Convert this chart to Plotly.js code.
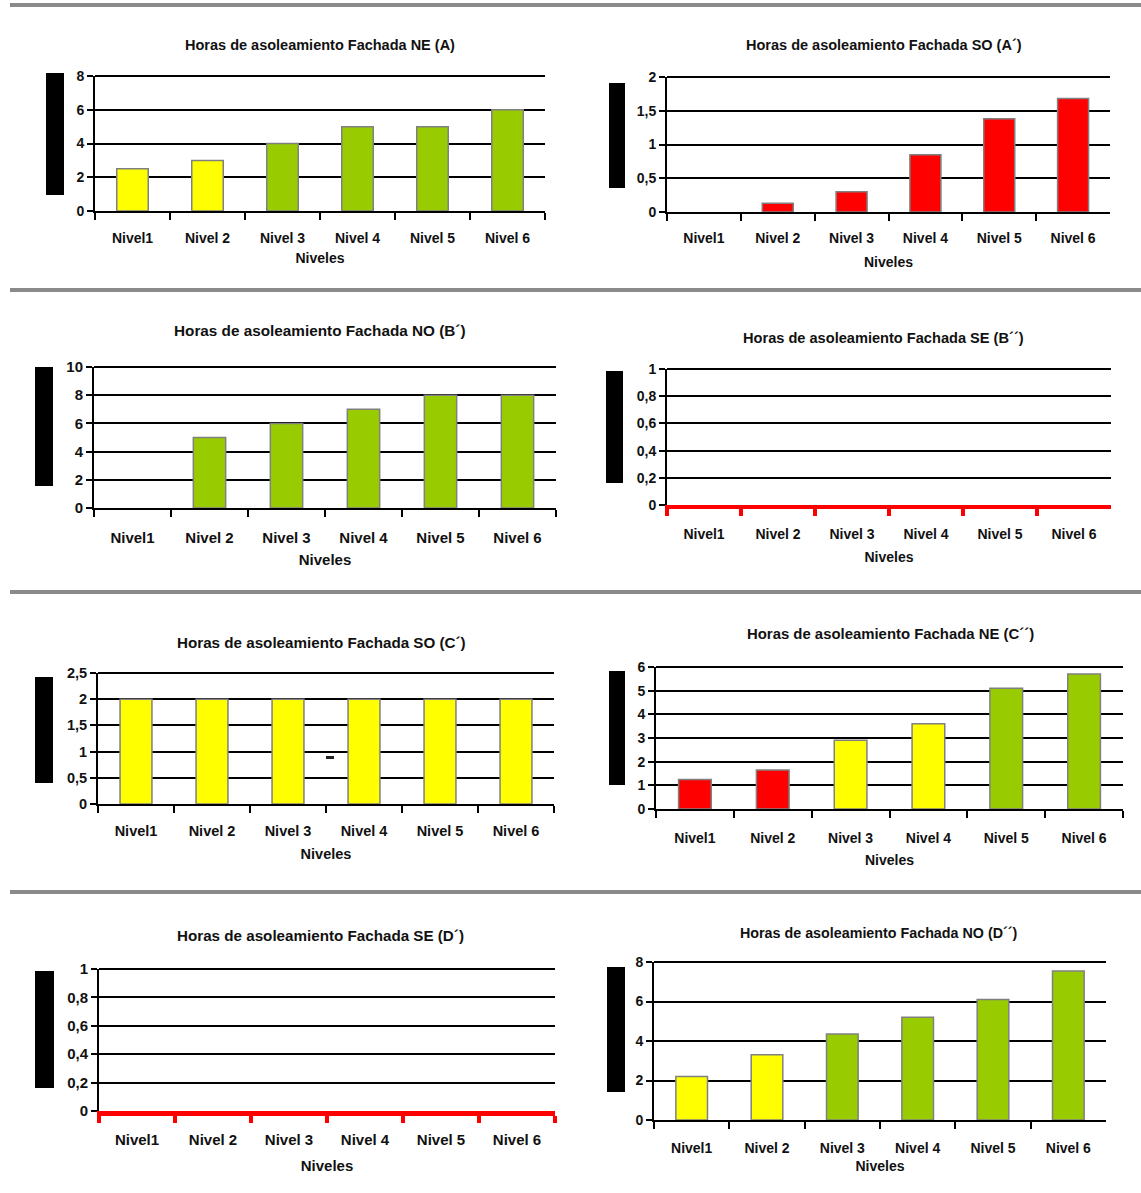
<!DOCTYPE html>
<html><head><meta charset="utf-8">
<script src="https://cdn.plot.ly/plotly-3.0.1.min.js"></script>
<style>html,body{margin:0;padding:0;background:#fff}#chart{width:1141px;height:1193px}</style>
</head><body><div id="chart"></div>
<script>
// ---------------- DATA ----------------
const categories = ['Nivel1', 'Nivel 2', 'Nivel 3', 'Nivel 4', 'Nivel 5', 'Nivel 6'];
const xAxisTitle = 'Niveles';

const YELLOW = '#FFFF00', GREEN = '#99CC00', RED = '#FF0000';

const titleNE_A  = 'Horas de asoleamiento Fachada NE (A)';
const titleSO_A2 = 'Horas de asoleamiento Fachada SO (A´)';
const titleNO_B1 = 'Horas de asoleamiento Fachada NO (B´)';
const titleSE_B2 = 'Horas de asoleamiento Fachada SE (B´´)';
const titleSO_C1 = 'Horas de asoleamiento Fachada SO (C´)';
const titleNE_C2 = 'Horas de asoleamiento Fachada NE (C´´)';
const titleSE_D1 = 'Horas de asoleamiento Fachada SE (D´)';
const titleNO_D2 = 'Horas de asoleamiento Fachada NO (D´´)';

const valuesNE_A  = [2.5, 3, 4, 5, 5, 6];
const colorsNE_A  = [YELLOW, YELLOW, GREEN, GREEN, GREEN, GREEN];

const valuesSO_A2 = [0, 0.13, 0.3, 0.85, 1.38, 1.68];
const colorsSO_A2 = [RED, RED, RED, RED, RED, RED];

const valuesNO_B1 = [0, 5, 6, 7, 8, 8];
const colorsNO_B1 = [GREEN, GREEN, GREEN, GREEN, GREEN, GREEN];

const valuesSE_B2 = [0, 0, 0, 0, 0, 0];
const colorsSE_B2 = [RED, RED, RED, RED, RED, RED];

const valuesSO_C1 = [2, 2, 2, 2, 2, 2];
const colorsSO_C1 = [YELLOW, YELLOW, YELLOW, YELLOW, YELLOW, YELLOW];

const valuesNE_C2 = [1.25, 1.65, 2.9, 3.6, 5.1, 5.7];
const colorsNE_C2 = [RED, RED, YELLOW, YELLOW, GREEN, GREEN];

const valuesSE_D1 = [0, 0, 0, 0, 0, 0];
const colorsSE_D1 = [RED, RED, RED, RED, RED, RED];

const valuesNO_D2 = [2.2, 3.3, 4.35, 5.2, 6.1, 7.55];
const colorsNO_D2 = [YELLOW, YELLOW, GREEN, GREEN, GREEN, GREEN];

const yMax   = [8, 2, 10, 1, 2.5, 6, 1, 8];
const yDtick = [2, 0.5, 2, 0.2, 0.5, 1, 0.2, 2];

// ---------------- LAYOUT CONFIG ----------------
const W = 1141, H = 1193;
const FONT = 'Liberation Sans, Arial, sans-serif';
// pixel boxes of plot areas: [x0, x1, yTop, yBottom]; ls = tick label standoff, ts = axis title standoff
const panels = [
  {title: titleNE_A,  v: valuesNE_A,  c: colorsNE_A,  box: [95, 545, 76, 211],   tc: [320, 45],  rect: [46, 64, 73, 195],    fs: 14,   tfs: 14.5, ls: 13, ts: 8,  axisColor: '#000', axisW: 2},
  {title: titleSO_A2, v: valuesSO_A2, c: colorsSO_A2, box: [667, 1110, 77, 212],  tc: [884, 45],  rect: [609, 625, 83, 188],  fs: 14,   tfs: 14.5, ls: 12, ts: 12, axisColor: '#000', axisW: 2},
  {title: titleNO_B1, v: valuesNO_B1, c: colorsNO_B1, box: [94, 556, 367, 508],  tc: [320, 330], rect: [35, 53, 367, 486],   fs: 15,   tfs: 15.3, ls: 15, ts: 9,  axisColor: '#000', axisW: 2},
  {title: titleSE_B2, v: valuesSE_B2, c: colorsSE_B2, box: [667, 1111, 369, 505], tc: [883, 338], rect: [606, 623, 371, 483], fs: 14,   tfs: 14.6, ls: 13, ts: 12, axisColor: RED,    axisW: 4},
  {title: titleSO_C1, v: valuesSO_C1, c: colorsSO_C1, box: [98, 554, 673, 804],  tc: [321, 642], rect: [35, 53, 677, 783],   fs: 14.5, tfs: 15.2, ls: 13, ts: 10, axisColor: '#000', axisW: 2},
  {title: titleNE_C2, v: valuesNE_C2, c: colorsNE_C2, box: [656, 1123, 667, 809], tc: [890, 634], rect: [609, 625, 671, 785], fs: 14,   tfs: 14.9, ls: 15, ts: 10, axisColor: '#000', axisW: 2},
  {title: titleSE_D1, v: valuesSE_D1, c: colorsSE_D1, box: [99, 555, 969, 1111], tc: [320, 935], rect: [35, 54, 971, 1088],  fs: 15,   tfs: 15.2, ls: 11, ts: 15, axisColor: RED,    axisW: 5},
  {title: titleNO_D2, v: valuesNO_D2, c: colorsNO_D2, box: [654, 1106, 962, 1120], tc: [879, 933], rect: [607, 625, 967, 1092], fs: 14,  tfs: 14.3, ls: 14, ts: 6,  axisColor: '#000', axisW: 2}
];

const px = x => x / W;
const py = y => 1 - y / H;

const traces = [];
const layout = {
  width: W, height: H,
  margin: {l: 0, r: 0, t: 0, b: 0},
  paper_bgcolor: '#fff', plot_bgcolor: 'rgba(0,0,0,0)',
  showlegend: false,
  separators: ', ',
  font: {family: FONT, color: '#111'},
  shapes: [], annotations: []
};

panels.forEach((p, i) => {
  const n = i + 1;
  const xs = n === 1 ? '' : String(n);
  traces.push({
    type: 'bar', x: categories, y: p.v,
    xaxis: 'x' + xs, yaxis: 'y' + xs,
    width: 0.42,
    marker: {color: p.c, line: {color: '#808080', width: p.v.map(v => v === 0 ? 0 : 1.5)}},
    hoverinfo: 'x+y'
  });
  const [x0, x1, yt, yb] = p.box;
  const tf = {family: FONT, size: p.fs, weight: 'bold', color: '#111'};
  layout['xaxis' + xs] = {
    domain: [px(x0), px(x1)], anchor: 'y' + xs,
    type: 'category', range: [-0.5, 5.5],
    showline: true, linecolor: p.axisColor, linewidth: p.axisW,
    ticks: 'outside', tickson: 'boundaries', ticklen: 7, tickwidth: p.axisColor === RED ? 4 : 2,
    tickcolor: p.axisColor,
    showgrid: false, zeroline: false,
    tickfont: tf,
    ticklabelstandoff: p.ls,
    title: {text: xAxisTitle, font: tf, standoff: p.ts},
    fixedrange: true
  };
  layout['yaxis' + xs] = {
    domain: [py(yb), py(yt)], anchor: 'x' + xs,
    range: [0, yMax[i]], dtick: yDtick[i], tick0: 0,
    showline: true, linecolor: '#000', linewidth: 2,
    ticks: 'outside', ticklen: 6, tickwidth: 2, tickcolor: '#000',
    showgrid: true, gridcolor: '#000', gridwidth: 2,
    zeroline: false,
    tickfont: tf,
    fixedrange: true
  };
  // top gridline (Plotly drops gridlines lying on the plot edge)
  layout.shapes.push({type: 'line', xref: 'x' + xs + ' domain', yref: 'y' + xs + ' domain',
    x0: 0, x1: 1, y0: 1, y1: 1, line: {color: '#000', width: 2}, layer: 'below'});
  layout.annotations.push({
    text: p.title, xref: 'paper', yref: 'paper', x: px(p.tc[0]), y: py(p.tc[1]),
    xanchor: 'center', yanchor: 'middle', showarrow: false,
    font: {family: FONT, size: p.tfs, weight: 'bold', color: '#111'}
  });
  const [rx0, rx1, ry0, ry1] = p.rect;
  layout.shapes.push({type: 'rect', xref: 'paper', yref: 'paper',
    x0: px(rx0), x1: px(rx1), y0: py(ry1), y1: py(ry0),
    fillcolor: '#000', line: {width: 0}});
});

// section separators
[5, 290, 592, 892].forEach(y => {
  layout.shapes.push({type: 'line', xref: 'paper', yref: 'paper',
    x0: px(10), x1: 1, y0: py(y), y1: py(y), line: {color: '#8a8a8a', width: 4}});
});
// small stray mark in panel C´
layout.shapes.push({type: 'rect', xref: 'paper', yref: 'paper',
  x0: px(326), x1: px(334), y0: py(759), y1: py(756), fillcolor: '#222', line: {width: 0}});

Plotly.newPlot('chart', traces, layout, {displayModeBar: false, staticPlot: true});
</script>
</body></html>
